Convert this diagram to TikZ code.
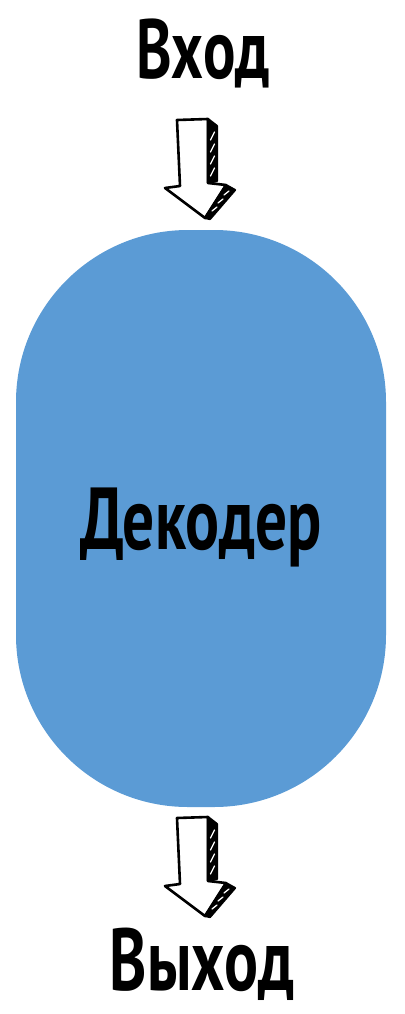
\documentclass[tikz,border=0pt]{standalone}
\usepackage{fontspec}
\setmainfont{PT Sans}
\newfontfamily\labelfont[FakeStretch=0.72]{PT Sans}
\usepackage{xcolor}
\usepackage{tikz}
\usetikzlibrary{positioning}
\definecolor{decblue}{HTML}{5B9BD5}

\begin{document}
\begin{tikzpicture}[x=1pt, y=-1pt]
		\tikzstyle{block} = [fill=decblue, draw=none, minimum width=370pt, minimum height=577pt, rounded corners=172pt, inner sep=0pt, text depth=0pt, font=\labelfont\bfseries\fontsize{88}{90}\selectfont]
		\tikzstyle{caption} = [inner sep=0pt, anchor=base, font=\labelfont\bfseries\fontsize{88}{90}\selectfont]
		\tikzstyle{face} = [fill=white, draw=black, line width=2.6pt, line join=round]
		\tikzstyle{side} = [fill=black, draw=black, line width=2.2pt, line join=round]
		\tikzstyle{slash} = [draw=white, line width=1.3pt, line cap=round]
		
		\useasboundingbox (0,0) rectangle (404,1014);
		
		\node[block] 	at (201, 518.5)	(dec) 	{Декодер};
		\node[caption, font=\labelfont\bfseries\fontsize{84}{86}\selectfont] 	at (203, 79)	(in) 	{Вход};
		\node[caption] 	at (202, 990)	(out) 	{Выход};
		
		% block arrows above and below the decoder
		\foreach \dy in {0, 698} {
			\begin{scope}[shift={(0,\dy)}]
				\draw[face] (177,120) -- (208,119) -- (208,183) -- (226,185) -- (205,218) -- (165,188) -- (180,186) -- cycle;
				\draw[side] (208,119) -- (217,126) -- (217,181) -- (208,183) -- cycle;
				\foreach \s in {136, 148, 160, 172}
					\draw[slash] (210.5,\s+4) -- (214.5,\s-4);
				\draw[side] (226,185) -- (235,190) -- (210,219) -- (205,218) -- cycle;
				\foreach \px/\py in {226/194, 220/202, 214/210}
					\draw[slash] (\px-2,\py+1) -- (\px+3,\py-3);
			\end{scope}
		}
	\end{tikzpicture}
\end{document}
